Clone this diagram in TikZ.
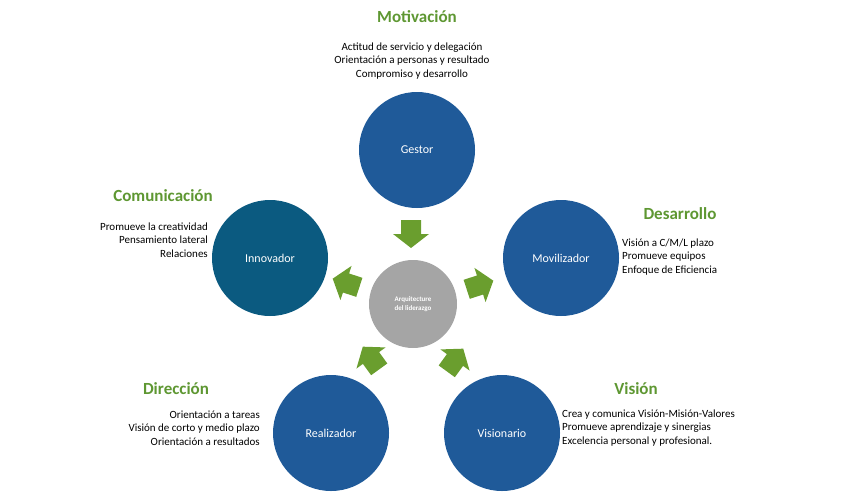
\documentclass[tikz,border=0pt]{standalone}
\usepackage{fontspec}
\setmainfont{Carlito}
\begin{document}
\begin{tikzpicture}[x=1pt,y=-1pt,
  circ/.style={circle,fill=blue1,minimum size=116pt,inner sep=0pt,text=white,font=\fontsize{12}{14}\selectfont},
  ttl/.style={font=\bfseries\fontsize{17}{20}\selectfont,text=green1},
  txt/.style={font=\fontsize{11}{13.5}\selectfont,align=#1,inner sep=0pt},
  arr/.pic={\fill[green2] (-14,-10) -- (0,-10) -- (0,-18) -- (14,0) -- (0,18) -- (0,10) -- (-14,10) -- cycle;}]
\definecolor{blue1}{HTML}{1F5A99}
\definecolor{teal1}{HTML}{0B5A80}
\definecolor{green1}{HTML}{5E9732}
\definecolor{green2}{HTML}{6A9E2E}
\definecolor{gray1}{HTML}{A5A5A5}
\useasboundingbox (0,0) rectangle (850,503);
\node[circ] (g) at (417,150) {Gestor};
\node[circ,fill=teal1] (i) at (270,258) {Innovador};
\node[circ] (m) at (561,258) {Movilizador};
\node[circ] (r) at (331,433) {Realizador};
\node[circ] (v) at (502,433) {Visionario};
\node[circle,fill=gray1,minimum size=88pt,inner sep=0pt,text=white,align=center,font=\bfseries\fontsize{7}{8.5}\selectfont] (c) at (413,304) {Arquitecture\\del liderazgo};
\pic[rotate=-90] at (411,234) {arr};
\pic[rotate=18] at (480,285) {arr};
\pic[rotate=162] at (346,283) {arr};
\pic[rotate=126] at (371,358) {arr};
\pic[rotate=54] at (455,360) {arr};
\node[ttl] (tm) at (417,17) {Motivación};
\node[txt=center] (xm) at (412,61) {Actitud de servicio y delegación\\Orientación a personas y resultado\\Compromiso y desarrollo};
\node[ttl] (tc) at (163,196) {Comunicación};
\node[txt=right,anchor=east] (xc) at (208,240) {Promueve la creatividad\\Pensamiento lateral\\Relaciones};
\node[ttl] (td) at (680,214) {Desarrollo};
\node[txt=left,anchor=west] (xd) at (622,257) {Visión a C/M/L plazo\\Promueve equipos\\Enfoque de Eficiencia};
\node[ttl] (tr) at (176,389) {Dirección};
\node[txt=right,anchor=east] (xr) at (260,428) {Orientación a tareas\\Visión de corto y medio plazo\\Orientación a resultados};
\node[ttl] (tv) at (636,389) {Visión};
\node[txt=left,anchor=west] (xv) at (562,428) {Crea y comunica Visión-Misión-Valores\\Promueve aprendizaje y sinergias\\Excelencia personal y profesional.};
\end{tikzpicture}
\end{document}
